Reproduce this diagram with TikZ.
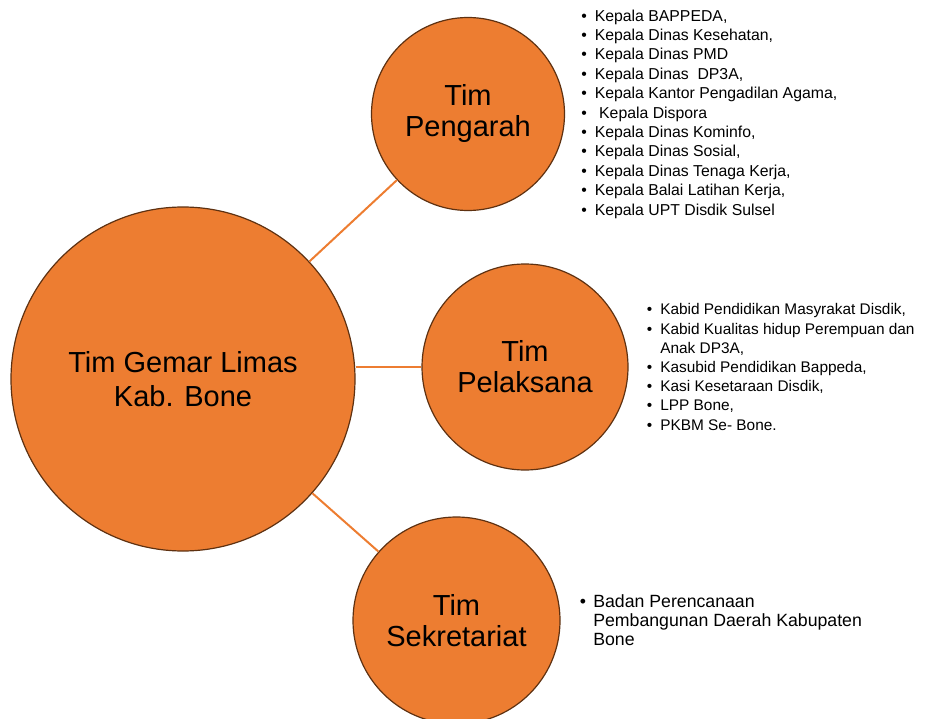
\documentclass[tikz,border=0pt]{standalone}
\usepackage{fontspec}
\setmainfont{Liberation Sans}
\usetikzlibrary{positioning}
\definecolor{timorange}{HTML}{ED7D31}
\definecolor{timedge}{HTML}{5E3111}
\newcommand{\bul}{\makebox[13.5pt][l]{\textbullet}}
\newcommand{\cont}{\hspace*{13.5pt}}

\begin{document}
\begin{tikzpicture}[x=1pt,y=-1pt,node distance=17pt,
  big node/.style={circle,draw=timedge,fill=timorange,line width=1.2pt,inner sep=0pt,minimum size=344pt,align=center,font=\fontsize{29}{34}\selectfont},
  team node/.style={circle,draw=timedge,fill=timorange,line width=1.2pt,inner sep=0pt,minimum size=206pt,align=center,font=\fontsize{29}{31}\selectfont},
  member list/.style={inner sep=0pt,align=left,font=\fontsize{15.5}{19.4}\selectfont},
  team link/.style={draw=timorange,line width=2pt}]

\useasboundingbox (0,0) rectangle (926,719);

\node[big node] (main) at (183,379) {Tim Gemar Limas\\Kab. Bone};
\node[team node,minimum size=193pt] (pengarah)    at (468,114)     {Tim\\Pengarah};
\node[team node]                    (pelaksana)   at (525,367)     {Tim\\Pelaksana};
\node[team node,minimum size=207pt] (sekretariat) at (456.5,620.5) {Tim\\Sekretariat};

\path[team link]
  (main) edge (pengarah)
  (main) edge (sekretariat)
  (main.east |- pelaksana) edge (pelaksana);

\node[member list,right=16pt of pengarah,font=\fontsize{15.8}{19.4}\selectfont] (pengarah list) {%
  \bul Kepala BAPPEDA,\\
  \bul Kepala Dinas Kesehatan,\\
  \bul Kepala Dinas PMD\\
  \bul Kepala Dinas \ DP3A,\\
  \bul Kepala Kantor Pengadilan Agama,\\
  \bul \ Kepala Dispora\\
  \bul Kepala Dinas Kominfo,\\
  \bul Kepala Dinas Sosial,\\
  \bul Kepala Dinas Tenaga Kerja,\\
  \bul Kepala Balai Latihan Kerja,\\
  \bul Kepala UPT Disdik Sulsel};
\node[member list,right=18pt of pelaksana,font=\fontsize{15.4}{19.2}\selectfont] (pelaksana list) {%
  \bul Kabid Pendidikan Masyrakat Disdik,\\
  \bul Kabid Kualitas hidup Perempuan dan\\
  \cont Anak DP3A,\\
  \bul Kasubid Pendidikan Bappeda,\\
  \bul Kasi Kesetaraan Disdik,\\
  \bul LPP Bone,\\
  \bul PKBM Se- Bone.};
\node[member list,right=19pt of sekretariat,font=\fontsize{17.7}{19}\selectfont] (sekretariat list) {%
  \bul Badan Perencanaan\\
  \cont Pembangunan Daerah Kabupaten\\
  \cont Bone};
\end{tikzpicture}
\end{document}
